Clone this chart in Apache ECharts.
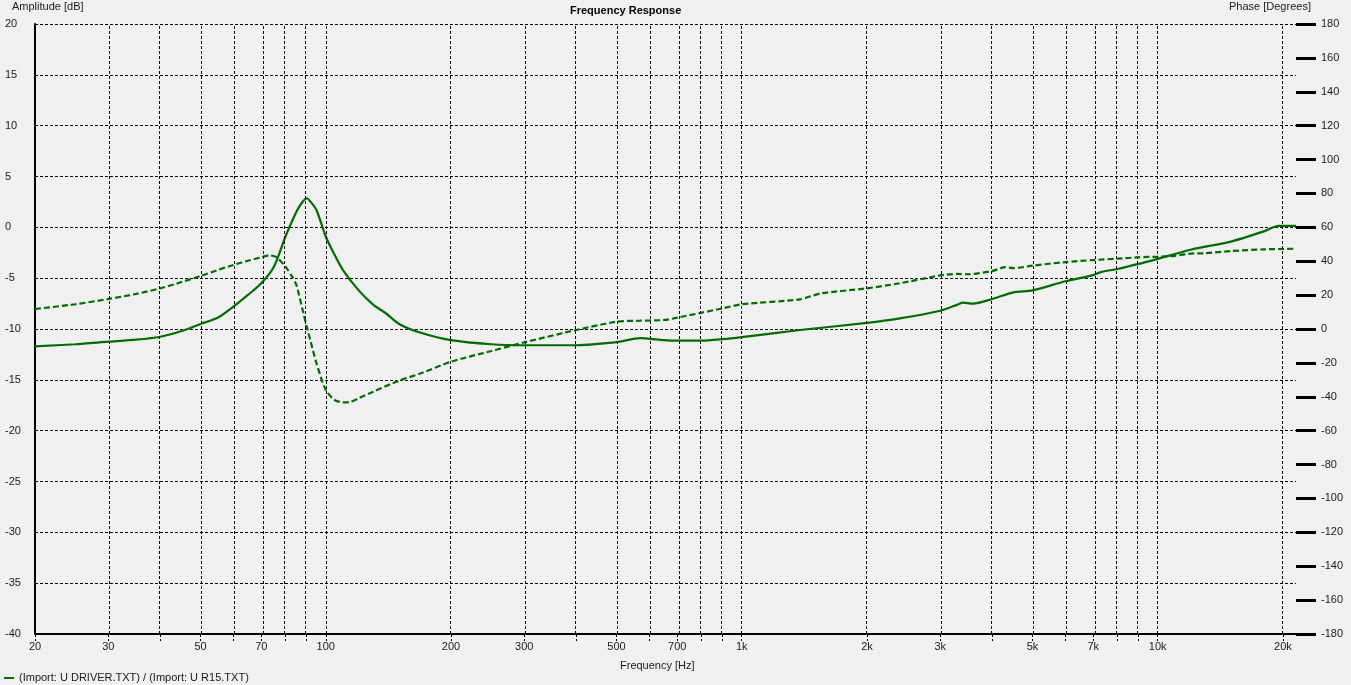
<!DOCTYPE html>
<html>
<head>
<meta charset="utf-8">
<script src="https://cdn.jsdelivr.net/npm/echarts@6/dist/echarts.min.js"></script>
<style>
html,body{margin:0;padding:0;background:#f0f0f0;}
#chart{width:1351px;height:685px;}
</style>
</head>
<body>
<div id="chart"></div>
<script>
// ---- data ----
const ampFreq = [20,25,30,35,40,45,50,55,60,65,70,75,80,85,88,90,92,95,100,105,110,120,130,140,150,170,200,250,300,400,500,570,650,700,800,900,1000,1380,2000,2400,3000,3300,3400,3600,4000,4500,5000,6000,7000,7300,8000,9000,10000,12000,15000,18000,19500,21500];
const ampDb   = [-11.7,-11.5,-11.25,-11.05,-10.76,-10.2,-9.5,-8.9,-7.8,-6.65,-5.5,-3.9,-0.92,1.54,2.52,2.86,2.5,1.7,-0.9,-2.7,-4.2,-6.2,-7.6,-8.5,-9.5,-10.4,-11.1,-11.5,-11.6,-11.6,-11.3,-10.9,-11.1,-11.15,-11.15,-11.0,-10.8,-10.1,-9.4,-8.95,-8.2,-7.6,-7.4,-7.5,-7.05,-6.4,-6.2,-5.3,-4.7,-4.4,-4.1,-3.6,-3.1,-2.2,-1.4,-0.4,0.15,0.15];

const phaseFreq = [20,25,30,35,40,45,50,55,60,65,70,73,76,80,83,85,88,90,92,95,100,105,110,115,120,130,150,170,200,250,300,400,500,570,650,700,800,900,1000,1380,1550,2000,2400,3000,3300,3500,4000,4300,4500,5000,6000,7000,8000,9000,10000,11000,12000,13000,15000,18000,21500];
const phaseDeg  = [11.8,14.6,17.7,20.7,24,27.7,31.3,34.8,37.8,40.3,42.3,43.5,42.5,36.8,30.9,26,11.2,1.4,-7.5,-20.2,-36,-41.9,-43.3,-42.9,-40.9,-37,-30.5,-26,-19.3,-13,-7.9,-0.6,4.3,4.9,5.3,6.7,9.6,12.2,14.6,17.5,21,24,27,31.6,32.5,32.3,34.2,36.5,35.9,37.4,39.5,40.7,41.5,42.3,42.7,43.2,44.5,44.7,46,47,47.4];

const freqLabels = [20,30,50,70,100,200,300,500,700,1000,2000,3000,5000,7000,10000,20000];
const gridFreqs = [20,30,40,50,60,70,80,90,100,200,300,400,500,600,700,800,900,1000,2000,3000,4000,5000,6000,7000,8000,9000,10000,20000];

const xMinHz = 20, xMaxHz = 21500;
const green = '#006b00';
const font = 'Liberation Sans, Arial, sans-serif';

const lg = Math.log10;
const ampData = ampFreq.map((f, i) => [lg(f), ampDb[i]]);
const phaseData = phaseFreq.map((f, i) => [lg(f), phaseDeg[i]]);

function fmtHz(v) {
  const f = Math.round(Math.pow(10, v));
  return f >= 1000 ? (f / 1000) + 'k' : String(f);
}

const chart = echarts.init(document.getElementById('chart'), null, {renderer: 'canvas'});
chart.setOption({
  animation: false,
  backgroundColor: '#f0f0f0',
  grid: {left: 35, right: 55, top: 24, bottom: 51, containLabel: false},
  xAxis: {
    type: 'value',
    min: lg(xMinHz), max: lg(xMaxHz),
    axisLine: {show: true, onZero: false, lineStyle: {color: '#000', width: 2}},
    axisTick: {show: true, customValues: gridFreqs.map(lg), length: 7, lineStyle: {color: '#000', width: 1, type: [3, 2]}},
    axisLabel: {show: true, customValues: freqLabels.map(lg), formatter: fmtHz, color: '#1a1a1a', fontFamily: font, fontSize: 11, margin: 7},
    splitLine: {show: false}
  },
  yAxis: [{
    type: 'value', min: -40, max: 20, interval: 5, position: 'left',
    axisLine: {show: true, onZero: false, lineStyle: {color: '#000', width: 2}},
    axisTick: {show: false},
    axisLabel: {color: '#1a1a1a', fontFamily: font, fontSize: 11, align: 'left', margin: 30},
    splitLine: {show: true, lineStyle: {color: '#000', width: 1, type: [3, 2]}}
  }, {
    type: 'value', min: -180, max: 180, interval: 20, position: 'right',
    axisLine: {show: false, onZero: false},
    axisTick: {show: true, length: 20, lineStyle: {color: '#000', width: 3}},
    axisLabel: {color: '#1a1a1a', fontFamily: font, fontSize: 11, align: 'left', margin: 25},
    splitLine: {show: false}
  }],
  series: [{
    name: 'grid', type: 'line', data: [], z: 1, silent: true,
    markLine: {
      silent: true, symbol: ['none', 'none'], animation: false,
      label: {show: false},
      lineStyle: {color: '#000', width: 1, type: [3, 2]},
      emphasis: {disabled: true},
      data: gridFreqs.map(f => ({xAxis: lg(f)}))
    }
  }, {
    name: 'Amplitude', type: 'line', yAxisIndex: 0, data: ampData, z: 3,
    showSymbol: false, smooth: 0.25,
    lineStyle: {color: green, width: 2.2}
  }, {
    name: 'Phase', type: 'line', yAxisIndex: 1, data: phaseData, z: 3,
    showSymbol: false, smooth: 0.25,
    lineStyle: {color: green, width: 2.2, type: [6, 3]}
  }],
  graphic: [
    {type: 'text', left: 12, top: 1, style: {text: 'Amplitude [dB]', font: '11px ' + font, fill: '#1a1a1a'}},
    {type: 'text', left: 1229, top: 1, style: {text: 'Phase [Degrees]', font: '11px ' + font, fill: '#1a1a1a'}},
    {type: 'text', left: 570, top: 5, style: {text: 'Frequency Response', font: 'bold 11px ' + font, fill: '#000'}},
    {type: 'text', left: 620, top: 660, style: {text: 'Frequency [Hz]', font: '11px ' + font, fill: '#1a1a1a'}},
    {type: 'line', shape: {x1: 4, y1: 678, x2: 14, y2: 678}, style: {stroke: green, lineWidth: 2}},
    {type: 'text', left: 19, top: 672, style: {text: '(Import: U DRIVER.TXT) / (Import: U R15.TXT)', font: '11px ' + font, fill: '#1a1a1a'}}
  ]
});
</script>
</body>
</html>
